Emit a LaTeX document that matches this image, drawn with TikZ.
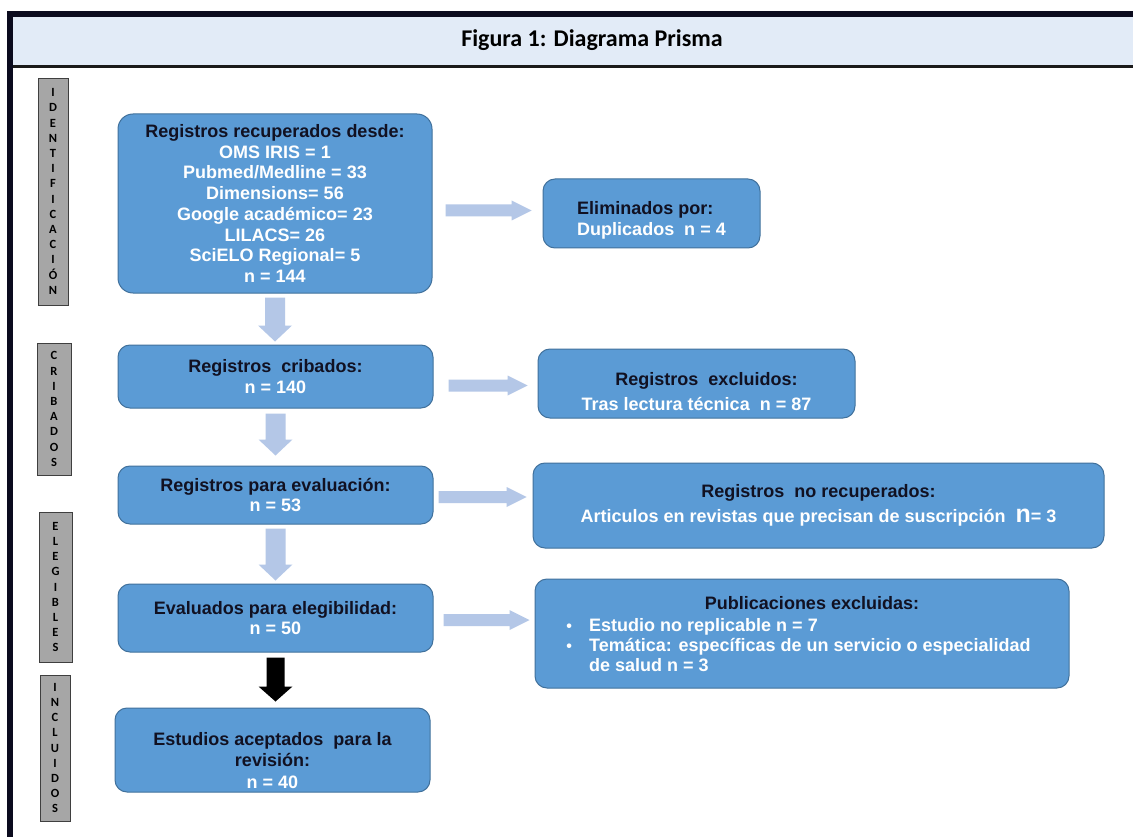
\documentclass[tikz,border=0pt]{standalone}
\usepackage{fontspec}
\setmainfont{Liberation Sans}
\newfontfamily\calib{Carlito}
\usetikzlibrary{calc}
\definecolor{boxblue}{HTML}{5B9BD5}
\definecolor{boxedge}{HTML}{41719C}
\definecolor{arrblue}{HTML}{B4C7E7}
\definecolor{hdrfill}{HTML}{E2EBF7}
\definecolor{framecol}{HTML}{0B0B1E}
\definecolor{hdrline}{HTML}{1A1A1A}
\definecolor{sidegray}{HTML}{A6A6A6}
\definecolor{sideedge}{HTML}{3F3F3F}
\definecolor{darktxt}{HTML}{111122}
\newcommand\hdtxt[1]{\textcolor{darktxt}{#1}}
% #1 colour, #2 start, #3 end, #4 shaft half width, #5 head half width, #6 head length
\newcommand\blockarrowdown[6]{%
  \fill[#1] let \p1=(#2), \p2=(#3) in
    (\x1-#4,\y1) -- (\x1+#4,\y1) -- (\x1+#4,\y2+#6) -- (\x1+#5,\y2+#6) --
    (\x1,\y2) -- (\x1-#5,\y2+#6) -- (\x1-#4,\y2+#6) -- cycle;}
\newcommand\blockarrowright[6]{%
  \fill[#1] let \p1=(#2), \p2=(#3) in
    (\x1,\y1+#4) -- (\x2-#6,\y1+#4) -- (\x2-#6,\y1+#5) -- (\x2,\y1) --
    (\x2-#6,\y1-#5) -- (\x2-#6,\y1-#4) -- (\x1,\y1-#4) -- cycle;}
\begin{document}
\begin{tikzpicture}[x=1pt,y=-1pt,
  box/.style={draw=boxedge, line width=1pt, fill=boxblue, rounded corners=12pt,
    inner sep=0pt, text=white, align=center,
    font=\bfseries\fontsize{18}{20.7}\selectfont},
  btxt/.style={inner sep=0pt, text=white, align=center,
    font=\bfseries\fontsize{18}{20.7}\selectfont},
  sidebox/.style={draw=sideedge, line width=0.8pt, fill=sidegray, inner sep=0pt,
    align=center, text=black, font=\calib\bfseries\fontsize{12.5}{15.2}\selectfont}
]
\useasboundingbox (0,0) rectangle (1133,837);
\fill[white] (0,0) rectangle (1133,837);

% frame and header
\fill[hdrfill] (13,17) rectangle (1133,65);
\fill[framecol] (7,11) rectangle (1133,17);
\fill[framecol] (7,11) rectangle (13,837);
\fill[hdrline] (13,65) rectangle (1133,68);
\node[inner sep=0pt, text=black, font=\calib\bfseries\fontsize{24}{28}\selectfont]
  (title) at (592,40) {Figura 1: Diagrama Prisma};

% side labels
\node[sidebox, minimum width=30pt, minimum height=227pt] (sid) at (53,191.5)
  {I\\D\\E\\N\\T\\I\\F\\I\\C\\A\\C\\I\\Ó\\N};
\node[sidebox, minimum width=34pt, minimum height=132pt] (scr) at (54,409)
  {C\\R\\I\\B\\A\\D\\O\\S};
\node[sidebox, minimum width=33pt, minimum height=150pt] (sel) at (55.5,587)
  {E\\L\\E\\G\\I\\B\\L\\E\\S};
\node[sidebox, minimum width=30pt, minimum height=146pt] (sin) at (55,748)
  {I\\N\\C\\L\\U\\I\\D\\O\\S};

% main column
\node[box, rounded corners=15pt, minimum width=314pt, minimum height=179pt] (b1) at (275,203.5)
  {\hdtxt{Registros recuperados desde:}\\OMS IRIS = 1\\Pubmed/Medline = 33\\Dimensions= 56\\Google académico= 23\\LILACS= 26\\SciELO Regional= 5\\n = 144};
\node[box, minimum width=315pt, minimum height=63pt] (b2) at (275.5,376.5)
  {\hdtxt{Registros\ \ cribados:}\\n = 140};
\node[box, minimum width=315pt, minimum height=58pt] (b3) at (275.5,495)
  {\hdtxt{Registros para evaluación:}\\n = 53};
\node[box, minimum width=315pt, minimum height=68pt] (b4) at (275.5,618)
  {\hdtxt{Evaluados para elegibilidad:}\\n = 50};
\node[box, minimum width=315pt, minimum height=84pt] (b5) at (272.5,750) {};
\node[btxt] (t5) at ([yshift=-11pt]b5.center)
  {\hdtxt{Estudios aceptados\ \ para la}\\\hdtxt{revisión:}\\[1.5pt]n = 40};

% right column
\node[box, minimum width=217pt, minimum height=69pt] (elim) at (651.5,213.5) {};
\node[btxt, align=left] (telim) at ([yshift=-7pt]elim.center)
  {\hdtxt{Eliminados por:}\\Duplicados\ \ n = 4};
\node[box, minimum width=317pt, minimum height=69pt] (excl) at (696.5,383.5) {};
\node[btxt] (texcl) at ([yshift=-8pt]excl.center)
  {\hdtxt{\ \ \ \ Registros\ \ excluidos:}\\[4pt]Tras lectura técnica\ \ n = 87};
\node[box, minimum width=571pt, minimum height=85pt] (norec) at (818.5,505.5)
  {\hdtxt{Registros\ \ no recuperados:}\\[4pt]Articulos en revistas que precisan de suscripción\ \ {\fontsize{25}{20}\selectfont n}= 3};
\node[box, minimum width=534pt, minimum height=109pt] (pub) at (802,633.5) {};
\node[btxt] (tpub) at (812,603) {\hdtxt{Publicaciones excluidas:}};
\node[btxt, anchor=west] (lpub) at (563,647)
  {\fontsize{18}{20}\selectfont
   \begin{tabular}{@{}l@{\hspace{14pt}}l@{}}
   \makebox[12pt]{\fontsize{16}{16}\selectfont •} & Estudio no replicable n = 7\\
   \makebox[12pt]{\fontsize{16}{16}\selectfont •} & Temática: específicas de un servicio o especialidad\\
   & de salud n = 3
   \end{tabular}};

% down arrows
\blockarrowdown{arrblue}{$(b1.south)+(0,4)$}{$(b2.north)+(0,-3)$}{10pt}{17pt}{16pt}
\blockarrowdown{arrblue}{$(b2.south)+(0,5)$}{$(b3.north)+(0,-10)$}{10pt}{17pt}{16pt}
\blockarrowdown{arrblue}{$(b3.south)+(0,4)$}{$(b4.north)+(0,-3)$}{10pt}{17pt}{16pt}
\blockarrowdown{black}{$(b4.south)+(0,5)$}{$(b4.south |- b5.north)+(0,-6)$}{9pt}{17pt}{15pt}

% right arrows
\blockarrowright{arrblue}{$(b1.east |- elim.west)+(13,-3)$}{$(elim.west)+(-11,0)$}{6pt}{10pt}{20pt}
\blockarrowright{arrblue}{$(b2.east |- excl.west)+(15,2)$}{$(excl.west)+(-10,0)$}{6pt}{10pt}{20pt}
\blockarrowright{arrblue}{$(b3.east)+(5,2)$}{$(norec.west)+(-6,0)$}{6pt}{10pt}{20pt}
\blockarrowright{arrblue}{$(b4.east)+(10,2)$}{$(pub.west)+(-5,0)$}{6pt}{10pt}{20pt}
\end{tikzpicture}
\end{document}
